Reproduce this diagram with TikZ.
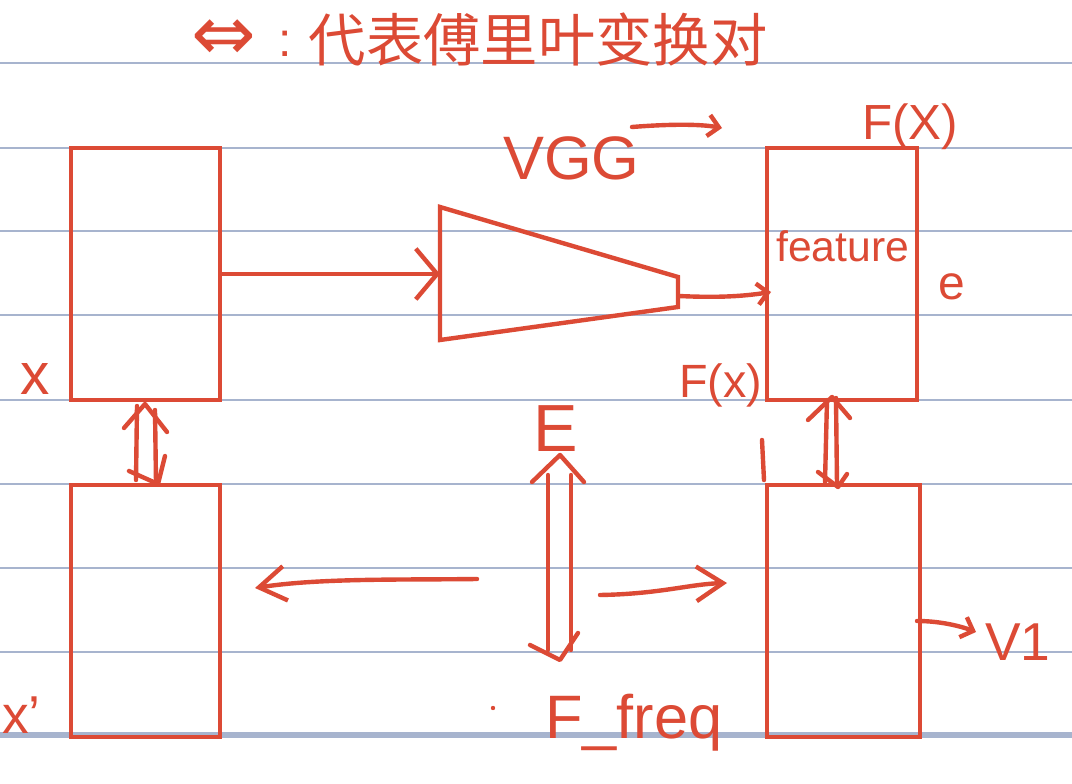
\documentclass[tikz,border=0pt]{standalone}
\usepackage{fontspec}
\setmainfont{Liberation Sans}
\newfontfamily\cjk{Noto Sans CJK SC}
\newfontfamily\dejavu{DejaVu Sans}
\usetikzlibrary{arrows.meta}
\definecolor{ink}{HTML}{DC4A35}
\definecolor{rulecol}{HTML}{A7B4CE}
\begin{document}
\begin{tikzpicture}[x=0.75pt,y=-0.75pt,
  rl/.style={draw=rulecol,line width=1.5pt},
  pen/.style={draw=ink,line width=3.3pt,line cap=round,line join=round},
  box/.style={draw=ink,line width=3.3pt,rectangle,inner sep=0pt,minimum width=112pt,minimum height=189pt},
  bigarr/.style={pen,-{Straight Barb[length=16pt,width=38pt]}},
  midarr/.style={pen,-{Straight Barb[length=20pt,width=26pt]}},
  smallarr/.style={pen,-{Straight Barb[length=8pt,width=16pt]}},
  lab/.style={text=ink,inner sep=0pt}
]
\useasboundingbox (0,0) rectangle (1072,784);
\fill[white] (0,0) rectangle (1072,784);
% ruled lines
\foreach \yy in {63,148,231,315,400,484,568,652}
  \draw[rl] (0,\yy) -- (1072,\yy);
\draw[draw=rulecol,line width=4.5pt] (0,735) -- (1072,735);

% title
\node[lab,font=\dejavu\fontsize{58pt}{60pt}\selectfont] (tarrow) at (224,40) {⇔};
\node[lab,font=\fontsize{36pt}{40pt}\selectfont] (tcolon) at (285,44) {:};
\node[lab,font=\cjk\fontsize{43pt}{48pt}\selectfont] (title) at (538,40) {代表傅里叶变换对};

% boxes
\node[box] (bx) at (145.5,274) {};
\node[box] (bxp) at (145.5,611) {};
\node[box,minimum width=112.5pt] (bf) at (842,274) {};
\node[box,minimum width=114.5pt] (bff) at (843.5,611) {};

% VGG trapezoid
\coordinate (t1) at (440,207);
\coordinate (t2) at (678,277);
\coordinate (t3) at (678,307);
\coordinate (t4) at (440,340);
\draw[pen,line cap=butt,line join=miter] (t1) -- (t2) -- (t3) -- (t4) -- cycle;
\coordinate (tin) at (440,274);
\coordinate (tout) at (679,296);
\coordinate (fin) at (771,292);
\draw[bigarr] (bx.east) -- (tin);
\draw[smallarr] (tout) .. controls (720,298) and (745,296) .. (fin);

% labels
\node[lab,anchor=base west,font=\fontsize{46pt}{50pt}\selectfont] (vgg) at (503,180) {VGG};
\coordinate (vggend) at (722,128);
\draw[smallarr] (632,127) .. controls (670,124) and (700,124) .. (vggend);
\node[lab,anchor=base west,font=\fontsize{37pt}{40pt}\selectfont] (fxtop) at (862,140) {F(X)};
\node[lab,anchor=base west,font=\fontsize{32pt}{36pt}\selectfont] (feat) at (776,262) {feature};
\node[lab,anchor=base west,font=\fontsize{36pt}{40pt}\selectfont] (e) at (938,300) {e};
\node[lab,anchor=base west,font=\fontsize{35pt}{40pt}\selectfont] (fxlow) at (679,398) {F(x)};
\node[lab,anchor=base west,font=\fontsize{44pt}{48pt}\selectfont] (x) at (20,395) {x};
\node[lab,anchor=base west,font=\fontsize{40pt}{48pt}\selectfont] (xp) at (2,733) {x'};
\node[lab,anchor=base,font=\fontsize{50pt}{54pt}\selectfont] (E) at (556,452) {E};
\node[lab,anchor=base west,font=\fontsize{46pt}{50pt}\selectfont] (ffreq) at (545,738) {F\_freq};
\node[lab,anchor=base west,font=\fontsize{40pt}{44pt}\selectfont] (v1) at (985,660) {V1};
\draw[pen] (762,440) -- (764,480);
\fill[ink] (493,708) circle (2.2);

% double arrow x <-> x'
\draw[pen] (137,406) -- (136,480);
\draw[pen] (155,410) -- (156,482);
\draw[pen] (124,428) -- (145,404) -- (167,432);
\draw[pen] (129,471) -- (158,484) -- (165,456);

% double arrow F(x) <-> bottom right
\draw[pen] (827,400) -- (825,482);
\draw[pen] (836,398) -- (837,484);
\draw[pen] (808,420) -- (832,397) -- (850,418);
\draw[pen] (818,472) -- (838,487) -- (847,474);

% double arrow E <-> F_freq
\draw[pen] (548,475) -- (548,650);
\draw[pen] (571,475) -- (571,650);
\draw[pen] (532,482) -- (560,455) -- (584,482);
\draw[pen] (530,645) -- (560,660) -- (578,633);

% horizontal arrows
\coordinate (la) at (477,579);
\coordinate (lb) at (255,588);
\draw[midarr] (la) .. controls (400,580) and (320,578) .. (lb);
\coordinate (ra) at (600,595);
\coordinate (rb) at (727,583);
\draw[midarr] (ra) .. controls (660,594) and (690,584) .. (rb);

% V1 arrow
\coordinate (vend) at (976,632);
\draw[smallarr] (917,621) .. controls (940,621) and (960,626) .. (vend);
\end{tikzpicture}
\end{document}
